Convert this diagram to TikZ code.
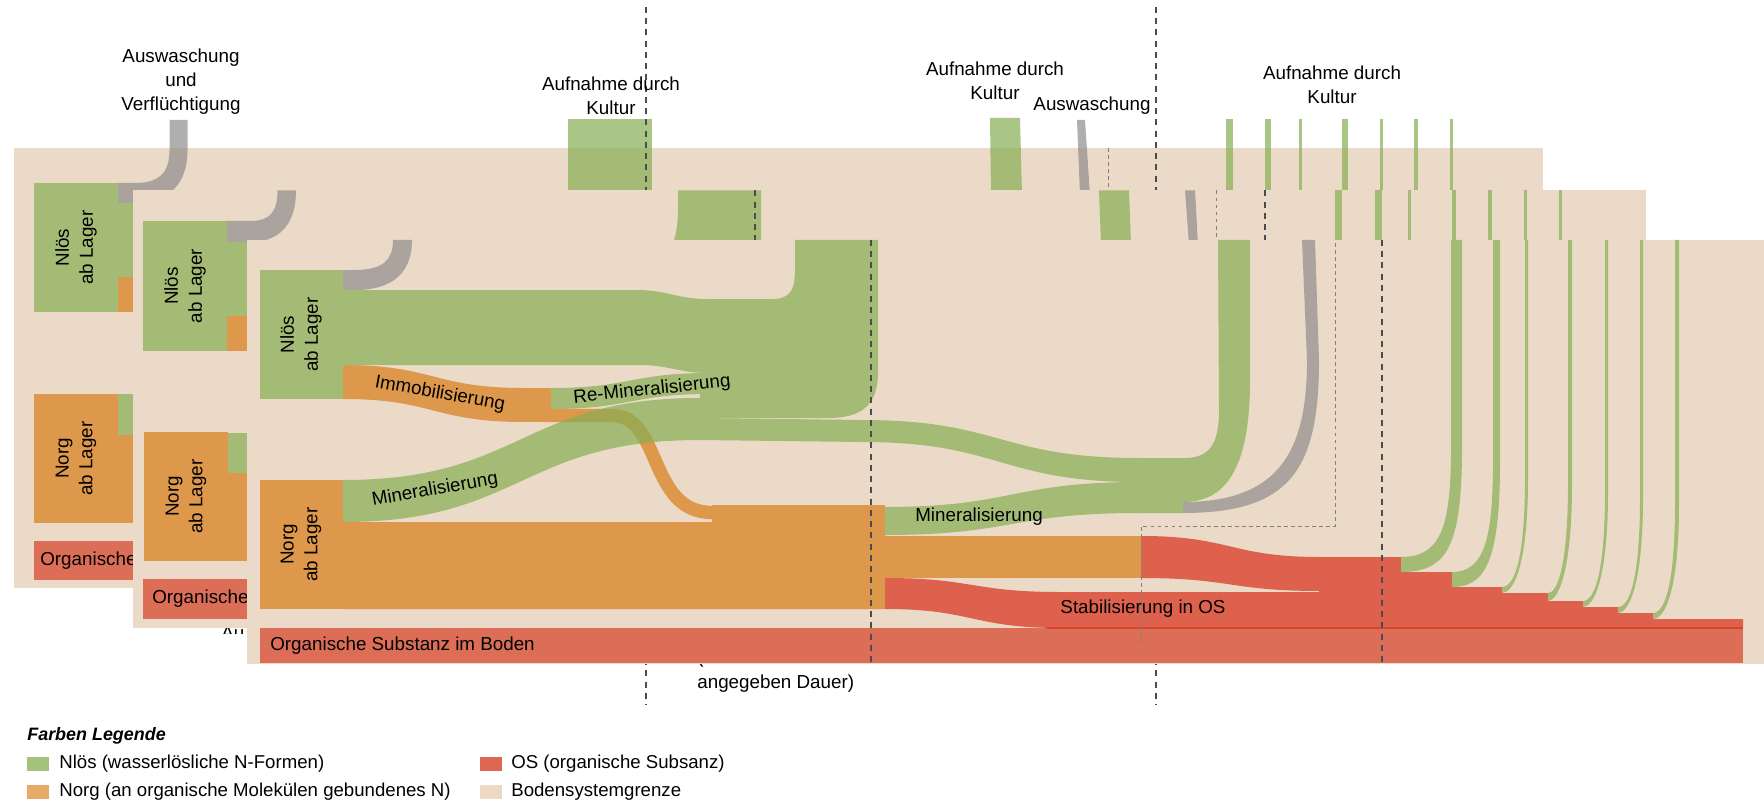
\documentclass[tikz,border=0pt]{standalone}
\usepackage{fontspec}
\setmainfont{Liberation Sans}

\definecolor{soilbeige}{RGB}{235,218,199}
\definecolor{nloesgreen}{RGB}{164,187,118}
\definecolor{thrugreen}{RGB}{134,174,83}
\definecolor{norgorange}{RGB}{222,152,76}
\definecolor{osred}{RGB}{220,110,88}
\definecolor{stabred}{RGB}{222,97,77}
\definecolor{osline}{RGB}{214,68,46}
\definecolor{lossgray}{RGB}{170,163,158}
\definecolor{thrugray}{RGB}{143,139,140}
\definecolor{keygreen}{RGB}{165,194,125}
\definecolor{keyorange}{RGB}{232,170,105}
\definecolor{keyred}{RGB}{222,103,82}
\definecolor{keybeige}{RGB}{236,218,198}

% horizontal band: style, x1, y1, x2, y2, thickness left, thickness right
\newcommand{\hband}[7]{%
  \fill[#1] (#2,#3) .. controls ({(#2+#4)/2},#3) and ({(#2+#4)/2},#5) .. (#4,#5)
    -- (#4,{#5+#7}) .. controls ({(#2+#4)/2},{#5+#7}) and ({(#2+#4)/2},{#3+#6}) .. (#2,{#3+#6}) -- cycle;}

\begin{document}
\begin{tikzpicture}[x=0.02cm,y=-0.02cm,
    soil/.style={fill=soilbeige},
    nloes/.style={fill=nloesgreen},
    norg/.style={fill=norgorange},
    os/.style={fill=osred},
    stab/.style={fill=stabred},
    loss/.style={fill=lossgray},
    thru/.style={fill=thrugreen,fill opacity=0.7},
    thruloss/.style={fill=thrugray,fill opacity=0.7},
    period/.style={draw=black!70,line width=0.7pt,dash pattern=on 3.4pt off 3pt},
    limit/.style={draw=black!50,line width=0.55pt,dash pattern=on 2.2pt off 1.8pt},
    lbl/.style={font=\fontsize{10.7}{13.6}\selectfont,align=center,inner sep=0pt},
    boxlbl/.style={lbl,rotate=90},
    oslbl/.style={lbl,anchor=west},
    key/.style={font=\fontsize{10.6}{12.7}\selectfont,anchor=west,inner sep=0pt}]

\useasboundingbox (0,0) rectangle (1764,804);

% ---- Periode 1 ----
\fill[soil] (13.5,148) rectangle (1543,588);
\fill[thruloss] (117.5,183) -- (135,183) .. controls (160,183) and (169.5,172) .. (169.5,150) -- (169.5,120)
    -- (187.5,120) -- (187.5,150) .. controls (187.5,185) and (168,203) .. (135,203) -- (117.5,203) -- cycle;
\fill[thru] (568,119) rectangle (652,195);
\fill[thru] (990,118) -- (1020,118) -- (1022,195) -- (991,195) -- cycle;
\fill[thruloss] (1077,120) -- (1085,120) -- (1090,195) -- (1080,195) -- cycle;
\foreach \xa/\xb in {1226/1233,1265/1271,1299/1302,1342/1348,1380/1383,1414/1418,1450/1453}
    \fill[thru] (\xa,119) rectangle (\xb,195);
\fill[nloes] (34,183) rectangle (117.5,312);
\fill[nloes] (117.5,203) rectangle (140,277);
\fill[norg] (117.5,277) rectangle (140,312);
\fill[norg] (34,394) rectangle (118,523);
\fill[nloes] (118,394) rectangle (140,435);
\fill[norg] (118,435) rectangle (140,523);
\fill[os] (34,541) rectangle (140,580);
\node[boxlbl] (nloes1) at (76,247.5) {Nlös\\ab Lager};
\node[boxlbl] (norg1) at (76,458.5) {Norg\\ab Lager};
\node[oslbl] (os1) at (40,561) {Organische Substanz im Boden};
\draw[period] (646,7) -- (646,705);
\draw[period] (1156,7) -- (1156,705);
\draw[limit] (1108,148) -- (1108,588);
\node[lbl] (wash1) at (181,82) {Auswaschung\\und\\Verflüchtigung};
\node[lbl] (uptake1) at (611,96) {Aufnahme durch\\Kultur};
\node[lbl] (uptake2) at (995,81) {Aufnahme durch\\Kultur};
\node[lbl] (wash2) at (1092,106) {Auswaschung};
\node[lbl] (uptake3) at (1332,85) {Aufnahme durch\\Kultur};
\begin{scope}
    \clip (210,626) rectangle (247,633);
    \node[lbl,anchor=north west] (washrest) at (221,626) {Au};
\end{scope}
\node[lbl,anchor=west] (note1) at (697,659) {(dieser Prozess wiederholt sich über die};
\node[lbl,anchor=west] (note2) at (697,684) {angegeben Dauer)};

% ---- Periode 2 ----
\fill[soil] (133,190.5) rectangle (1646,628);
\fill[loss] (226.5,221) -- (250,221) .. controls (270,221) and (277.5,212) .. (277.5,190.5)
    -- (296,190.5) .. controls (296,226) and (278,242) .. (250,242) -- (226.5,242) -- cycle;
\fill[thru] (678,190.5) -- (761,190.5) -- (761,245) -- (672,245) .. controls (677,234) and (678,222) .. (678,205) -- cycle;
\fill[thru] (1099,190.5) -- (1129,190.5) -- (1131,245) -- (1101,245) -- cycle;
\fill[thruloss] (1185,190.5) -- (1195,190.5) -- (1198,245) -- (1189,245) -- cycle;
\foreach \xa/\xb in {1335/1342,1375/1382,1408/1411,1452/1456,1488/1492,1524/1527,1559/1562}
    \fill[thru] (\xa,190.5) rectangle (\xb,245);
\fill[nloes] (143,221) rectangle (226.5,351);
\fill[nloes] (226.5,242) rectangle (260,316);
\fill[norg] (226.5,316) rectangle (260,351);
\fill[norg] (143.5,432) rectangle (228,561);
\fill[nloes] (228,433) rectangle (260,473);
\fill[norg] (228,473) rectangle (260,561);
\fill[os] (143,579) rectangle (260,619);
\node[boxlbl] (nloes2) at (185,286) {Nlös\\ab Lager};
\node[boxlbl] (norg2) at (186,496.5) {Norg\\ab Lager};
\node[oslbl] (os2) at (152,599) {Organische Substanz im Boden};
\draw[period] (755,190.5) -- (755,628);
\draw[limit] (1216,190.5) -- (1216,628);
\draw[period] (1265,190.5) -- (1265,628);

% ---- Periode 3 ----
\fill[soil] (247,240) rectangle (1764,664);
\fill[loss] (343,270) -- (355,270) .. controls (385,270) and (393,258) .. (393,240)
    -- (412,240) .. controls (412,275) and (390,290) .. (355,290) -- (343,290) -- cycle;
% Immobilisierung
\hband{norg}{343}{365}{524}{388}{34}{34}
\fill[norg] (523,388) rectangle (551,422);
\draw[norgorange,line width=7.6pt] (545,415.5) -- (612,415.5)
    .. controls (662,415.5) and (648,512.5) .. (712,512.5) -- (760,512.5);
\fill[norg] (343,522) -- (712,522) -- (712,505) -- (885,505) -- (885,609) -- (343,609) -- cycle;
% Mineralisierung, Re-Mineralisierung
\hband{thru}{343}{480}{700}{398}{42}{42}
\hband{thru}{551}{388}{710}{373}{21}{21}
\fill[nloes] (343,290) -- (636,290) .. controls (668,290) and (676,299) .. (708,299)
    -- (708,373) .. controls (680,373) and (668,365) .. (640,365) -- (343,365) -- cycle;
\fill[nloes] (700,299) -- (772,299) .. controls (792,299) and (795,288) .. (795,268) -- (795,240)
    -- (878,240) -- (878,372) .. controls (878,405) and (862,418) .. (828,418) -- (700,418) -- cycle;
\fill[nloes] (700,418) -- (862,420) .. controls (1000,420) and (1000,458) .. (1139,458)
    -- (1139,482) .. controls (1000,482) and (1000,442) .. (862,442) -- (700,440) -- cycle;
\hband{nloes}{885}{507}{1139}{482}{28}{31}
\fill[nloes] (1139,458) -- (1185,458) .. controls (1212,458) and (1219,440) .. (1219,410) -- (1218,240)
    -- (1250,240) -- (1250,380) .. controls (1250,470) and (1225,502) .. (1183,502)
    -- (1183,513) -- (1139,513) -- cycle;
\fill[loss] (1183,502) .. controls (1280,502) and (1307,450) .. (1307,360) -- (1302,240)
    -- (1315,240) -- (1319,360) .. controls (1319,470) and (1290,513) .. (1183,513) -- cycle;
% Stabilisierung in OS
\fill[norg] (885,536) rectangle (1141,578);
\fill[os] (259.5,628) rectangle (1743,663);
\hband{stab}{885}{578}{1060}{592}{31}{36}
\fill[stab] (1059,592) rectangle (1320,628);
\hband{stab}{1141}{536}{1320}{557}{42}{34}
\fill[stab] (1319,557) -- (1401,557) -- (1401,572) -- (1452,572) -- (1452,587) -- (1502,587)
    -- (1502,593) -- (1548,593) -- (1548,601) -- (1583,601) -- (1583,607) -- (1618,607)
    -- (1618,613) -- (1653,613) -- (1653,619) -- (1743,619) -- (1743,628) -- (1319,628) -- cycle;
\draw[osline,line width=0.8pt] (1047,628) -- (1743,628);
\foreach \xs/\yt/\yb/\xa/\xb in {1401/557/572/1451/1462,1452/572/587/1493/1500,1502/587/593/1525/1528,
        1548/593/601/1568/1572,1583/601/607/1605/1608,1618/607/613/1640/1643,1653/613/619/1675/1679}
    \fill[nloes] (\xs,\yt) .. controls ({\xa-10},\yt) and (\xa,{\yt-30}) .. (\xa,{\yt-110}) -- (\xa,240)
        -- (\xb,240) -- (\xb,{\yt-110}) .. controls (\xb,{\yb-25}) and ({\xb-15},\yb) .. (\xs,\yb) -- cycle;
\fill[nloes] (259.5,270) rectangle (343,399);
\fill[norg] (259.5,480) rectangle (343,609);
\draw[period] (871,240) -- (871,664);
\draw[period] (1382,240) -- (1382,664);
\draw[limit] (1141,643) -- (1141,526) -- (1335,526) -- (1335,240);
\node[boxlbl] (nloes3) at (301,334.5) {Nlös\\ab Lager};
\node[boxlbl] (norg3) at (301,544.5) {Norg\\ab Lager};
\node[oslbl] (os3) at (270,646) {Organische Substanz im Boden};
\node[lbl,rotate=-10] (immo) at (440,394) {Immobilisierung};
\node[lbl,rotate=6] (remin) at (652,390) {Re-Mineralisierung};
\node[lbl,rotate=10] (min1) at (435,490) {Mineralisierung};
\node[lbl] (min2) at (979,517) {Mineralisierung};
\node[lbl] (stabi) at (1143,609) {Stabilisierung in OS};

% ---- Legende ----
\node[key,font=\fontsize{10.2}{12}\selectfont\bfseries\itshape] (keyhead) at (27,736) {Farben Legende};
\fill[keygreen] (27,757) rectangle (49,771);
\node[key] (keynloes) at (59,764) {Nlös (wasserlösliche N-Formen)};
\fill[keyorange] (27,785) rectangle (49,799);
\node[key] (keynorg) at (59,792) {Norg (an organische Molekülen gebundenes N)};
\fill[keyred] (480,757) rectangle (502,771);
\node[key] (keyos) at (511,764) {OS (organische Subsanz)};
\fill[keybeige] (480,785) rectangle (502,799);
\node[key] (keysoil) at (511,792) {Bodensystemgrenze};
\end{tikzpicture}
\end{document}
